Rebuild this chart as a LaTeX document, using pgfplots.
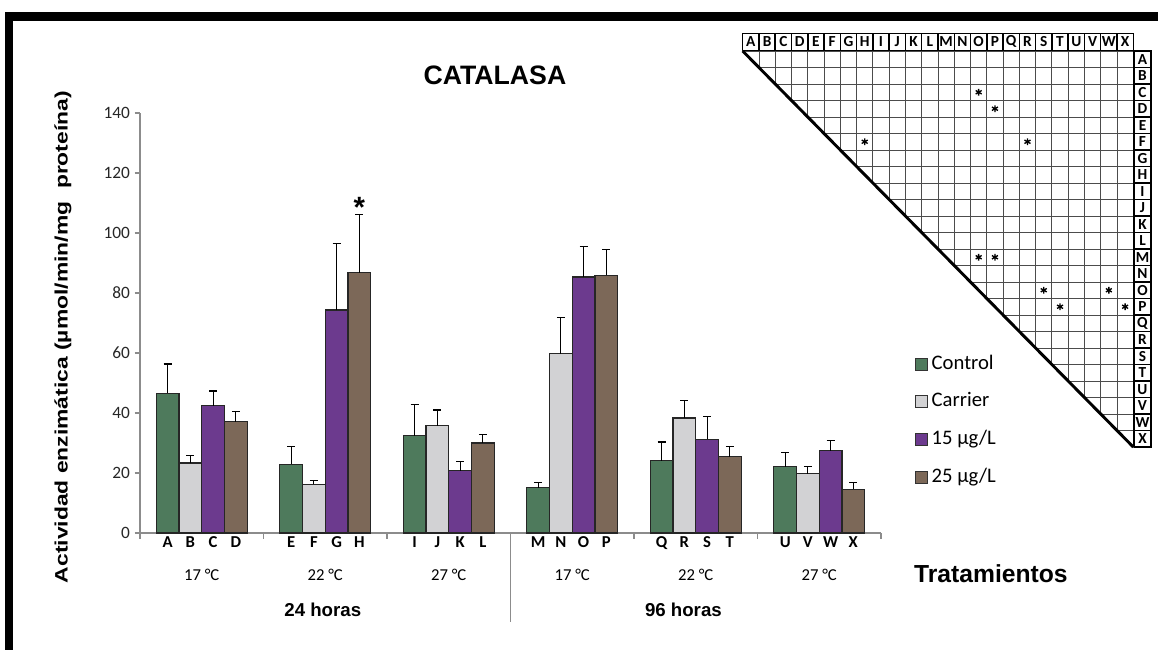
\documentclass[border=0pt]{standalone}
\usepackage{pgfplots}
\usepackage{pgfplotstable}
\pgfplotsset{compat=1.18}
\usepackage{fontspec}
\setmainfont{Carlito}
\newfontfamily\arial{Liberation Sans}
\definecolor{cctrl}{RGB}{78,122,92}
\definecolor{ccarr}{RGB}{210,210,212}
\definecolor{cfif}{RGB}{108,58,142}
\definecolor{ctwf}{RGB}{124,104,88}
\definecolor{axgray}{RGB}{140,140,140}

\pgfplotstableread{
x y e
0.2243 46.6 9.7
1.2243 22.9 5.8
2.2243 32.4 10.5
3.2243 15.1 1.8
4.2243 24.1 6.2
5.2243 22.1 4.8
}\ctrl
\pgfplotstableread{
x y e
0.4081 23.3 2.5
1.4081 16.2 1.4
2.4081 35.7 5.3
3.4081 59.7 12.0
4.4081 38.3 5.8
5.4081 19.7 2.4
}\carr
\pgfplotstableread{
x y e
0.5919 42.4 4.9
1.5919 74.3 22.3
2.5919 20.8 2.9
3.5919 85.3 10.3
4.5919 31.2 7.6
5.5919 27.4 3.4
}\fif
\pgfplotstableread{
x y e
0.7757 37.1 3.4
1.7757 86.8 19.3
2.7757 30.0 2.9
3.7757 85.9 8.5
4.7757 25.4 3.4
5.7757 14.6 2.3
}\twf
% significance stars in the comparison matrix: column index, row position (A at top = 23.5)
\pgfplotstableread{
x y
14.5 21.5
15.5 20.5
7.5 18.5
17.5 18.5
14.5 11.5
15.5 11.5
18.5 9.5
22.5 9.5
19.5 8.5
23.5 8.5
}\stars

\begin{document}
\begin{tikzpicture}
\useasboundingbox (0,0) rectangle (868.5pt,487.5pt);
\fill[black] (3.75pt,472pt) rectangle (868.5pt,478.5pt);
\fill[black] (3.75pt,0pt) rectangle (10pt,478.5pt);

\begin{axis}[
  at={(557pt,152.25pt)}, anchor=south west,
  scale only axis, width=292.95pt, height=297pt,
  xmin=0, xmax=24, ymin=0, ymax=24,
  axis line style={draw=none},
  xtick={0.5,1.5,...,23.5}, ytick={0.5,1.5,...,23.5},
  xticklabels={A,B,C,D,E,F,G,H,I,J,K,L,M,N,O,P,Q,R,S,T,U,V,W,X},
  yticklabels={X,W,V,U,T,S,R,Q,P,O,N,M,L,K,J,I,H,G,F,E,D,C,B,A},
  xticklabel pos=upper, yticklabel pos=upper,
  major tick length=0pt, minor tick length=0pt,
  minor xtick={0,1,...,24}, minor ytick={0,1,...,24},
  xminorgrids=true, yminorgrids=true,
  minor grid style={black!70, line width=0.6pt},
  xticklabel style={draw=black, line width=1.1pt, minimum width=12.21pt, minimum height=12.75pt,
    inner sep=0pt, anchor=south, font=\bfseries\fontsize{11.5}{11.5}\selectfont, text=black},
  yticklabel style={draw=black, line width=1.1pt, minimum width=12.75pt, minimum height=12.375pt,
    inner sep=0pt, anchor=west, font=\bfseries\fontsize{11.5}{11.5}\selectfont, text=black},
  clip=false,
]
\fill[white] (axis cs:0,24) -- (axis cs:-0.3,24) -- (axis cs:-0.3,-0.3) -- (axis cs:24,-0.3) -- (axis cs:24,0) -- cycle;
\draw[black, line width=2.2pt] (axis cs:0,24) -- (axis cs:24,0);
\addplot[only marks, mark=asterisk, mark size=2.6pt, line width=1pt, black] table[x=x, y=y] {\stars};
\end{axis}

\begin{axis}[
  at={(105pt,87.75pt)}, anchor=south west,
  scale only axis, width=555.75pt, height=315pt,
  xmin=0, xmax=6, ymin=0, ymax=140,
  axis lines=left,
  axis line style={axgray, line width=0.8pt, -},
  tick align=outside,
  ytick={0,20,...,140},
  major tick length=4pt,
  minor tick length=4.5pt,
  major y tick style={axgray, line width=0.8pt},
  major x tick style={draw=none},
  minor x tick style={axgray, line width=0.8pt},
  minor xtick={0,1,2,3,4,5,6},
  xtick={0.2243,0.4081,0.5919,0.7757,1.2243,1.4081,1.5919,1.7757,2.2243,2.4081,2.5919,2.7757,3.2243,3.4081,3.5919,3.7757,4.2243,4.4081,4.5919,4.7757,5.2243,5.4081,5.5919,5.7757},
  xticklabels={A,B,C,D,E,F,G,H,I,J,K,L,M,N,O,P,Q,R,S,T,U,V,W,X},
  xticklabel style={font=\bfseries\fontsize{12.5}{12.5}\selectfont, text=black, yshift=4.5pt},
  yticklabel style={font=\fontsize{13}{13}\selectfont, text=black!85},
  /pgf/number format/assume math mode=true,
  clip=false,
  bar width=0.1838,
  every axis plot/.append style={ybar, bar shift=0pt, draw=black!85, line width=0.9pt},
  error bars/y dir=plus, error bars/y explicit,
  error bars/error mark=-,
  error bars/error bar style={black, line width=0.8pt},
  error bars/error mark options={rotate=90, black, line width=0.9pt, mark size=3pt},
  legend style={at={(axis description cs:1.04,0.435)}, anchor=north west, draw=none, fill=none,
    font=\fontsize{15.5}{16}\selectfont, row sep=12.3pt,
    nodes={text height=11pt, text depth=3pt, inner sep=1pt, inner xsep=3pt}},
  legend cell align=left,
  legend image code/.code={\draw[#1, draw=black!80, line width=0.6pt] (0pt,-4.5pt) rectangle (9pt,4.5pt);},
]
\addplot[fill=cctrl] table[x=x, y=y, y error=e] {\ctrl};
\addplot[fill=ccarr] table[x=x, y=y, y error=e] {\carr};
\addplot[fill=cfif] table[x=x, y=y, y error=e] {\fif};
\addplot[fill=ctwf] table[x=x, y=y, y error=e] {\twf};
\legend{Control, Carrier, 15 µg/L, 25 µg/L}

\draw[axgray, line width=0.8pt] (axis cs:3,0) -- ++(0,-67pt);
\node[font=\arial\bfseries\fontsize{22}{22}\selectfont, anchor=base] at (axis cs:1.7757,105.2) {*};
\node[font=\arial\bfseries\fontsize{20}{20}\selectfont] at (axis cs:2.874,152.7) {CATALASA};
\node[font=\arial\bfseries\fontsize{13.5}{13.5}\selectfont, rotate=90, xscale=1.27] at (axis cs:-0.6235,65.3) {Actividad enzimática (µmol/min/mg\ \ proteína)};
\node[font=\fontsize{12.5}{12.5}\selectfont] at (axis cs:0.5,-14) {17 °C};
\node[font=\fontsize{12.5}{12.5}\selectfont] at (axis cs:1.5,-14) {22 °C};
\node[font=\fontsize{12.5}{12.5}\selectfont] at (axis cs:2.5,-14) {27 °C};
\node[font=\fontsize{12.5}{12.5}\selectfont] at (axis cs:3.5,-14) {17 °C};
\node[font=\fontsize{12.5}{12.5}\selectfont] at (axis cs:4.5,-14) {22 °C};
\node[font=\fontsize{12.5}{12.5}\selectfont] at (axis cs:5.5,-14) {27 °C};
\node[font=\arial\bfseries\fontsize{14}{14}\selectfont] at (axis cs:1.48,-25.7) {24 horas};
\node[font=\arial\bfseries\fontsize{14}{14}\selectfont] at (axis cs:4.4,-25.7) {96 horas};
\node[font=\arial\bfseries\fontsize{18.5}{18.5}\selectfont] at (axis cs:6.89,-13.67) {Tratamientos};
\end{axis}
\end{tikzpicture}
\end{document}
